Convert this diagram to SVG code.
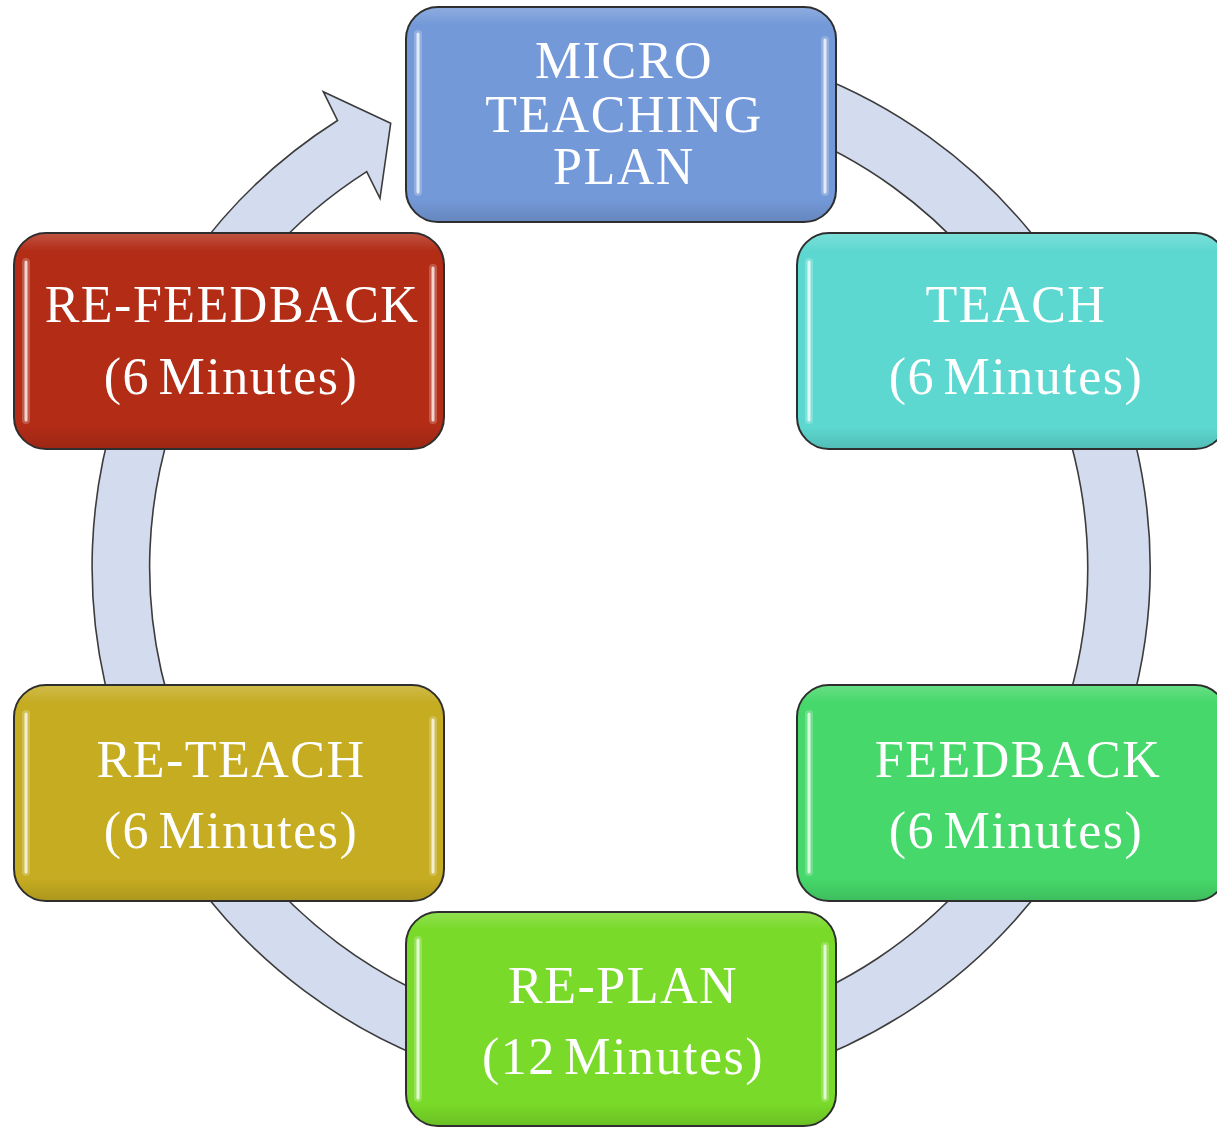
<svg xmlns="http://www.w3.org/2000/svg" width="1217" height="1127" viewBox="0 0 1217 1127">
  <defs>
    <linearGradient id="shade" x1="0" y1="0" x2="0" y2="1">
      <stop offset="0" stop-color="#ffffff" stop-opacity="0.18"/>
      <stop offset="0.08" stop-color="#ffffff" stop-opacity="0"/>
      <stop offset="0.9" stop-color="#000000" stop-opacity="0"/>
      <stop offset="1" stop-color="#000000" stop-opacity="0.12"/>
    </linearGradient>
    <style>
      .ring { fill: #D3DBEE; stroke: #3c3c3c; stroke-width: 1.6; stroke-linejoin: miter; }
      .box { stroke: #2e2e2e; stroke-width: 2; }
      .gloss { fill: url(#shade); stroke: none; }
      .hl { stroke: #ffffff; stroke-width: 3; stroke-linecap: round; opacity: 0.75; fill: none; }
      .hl2 { stroke: #ffffff; stroke-width: 8; stroke-linecap: round; opacity: 0.22; fill: none; }
      .lbl { font-family: "Liberation Serif", "Times New Roman", serif; font-size: 52px; letter-spacing: 1.5px; word-spacing: -6px; fill: #ffffff; text-anchor: middle; }
    </style>
  </defs>

  <g id="connectors">
    <path class="ring" d="M 575.9 40.0 A 529 529 0 1 1 337.5 120.5 L 323.3 91.7 L 390.7 123.3 L 380 198.3 L 366.7 171.7 A 469 469 0 1 0 581.1 99.8 Z"/>
  </g>

  <g id="node-plan">
    <rect class="box" x="406" y="7" width="430" height="215" rx="32" fill="#7499D8"/>
    <rect class="gloss" x="407" y="8" width="428" height="213" rx="31"/>
    <line class="hl2" x1="418" y1="34" x2="418" y2="192"/>
    <line class="hl" x1="418" y1="34" x2="418" y2="192"/>
    <line class="hl2" x1="825" y1="40" x2="825" y2="192"/>
    <line class="hl" x1="825" y1="40" x2="825" y2="192"/>
    <text class="lbl" x="624" y="78">MICRO</text>
    <text class="lbl" x="624" y="132">TEACHING</text>
    <text class="lbl" x="624" y="184">PLAN</text>
  </g>

  <g id="node-teach">
    <rect class="box" x="797" y="233" width="430" height="216" rx="32" fill="#5DD8D0"/>
    <rect class="gloss" x="798" y="234" width="428" height="214" rx="31"/>
    <line class="hl2" x1="809" y1="262" x2="809" y2="420"/>
    <line class="hl" x1="809" y1="262" x2="809" y2="420"/>
    <text class="lbl" x="1016" y="322">TEACH</text>
    <text class="lbl" x="1016" y="394">(6 Minutes)</text>
  </g>

  <g id="node-feedback">
    <rect class="box" x="797" y="685" width="430" height="216" rx="32" fill="#46D86A"/>
    <rect class="gloss" x="798" y="686" width="428" height="214" rx="31"/>
    <line class="hl2" x1="809" y1="714" x2="809" y2="872"/>
    <line class="hl" x1="809" y1="714" x2="809" y2="872"/>
    <text class="lbl" x="1018" y="777">FEEDBACK</text>
    <text class="lbl" x="1016" y="848">(6 Minutes)</text>
  </g>

  <g id="node-replan">
    <rect class="box" x="406" y="912" width="430" height="214" rx="32" fill="#79DA29"/>
    <rect class="gloss" x="407" y="913" width="428" height="212" rx="31"/>
    <line class="hl2" x1="418" y1="940" x2="418" y2="1098"/>
    <line class="hl" x1="418" y1="940" x2="418" y2="1098"/>
    <line class="hl2" x1="825" y1="946" x2="825" y2="1098"/>
    <line class="hl" x1="825" y1="946" x2="825" y2="1098"/>
    <text class="lbl" x="623" y="1003">RE-PLAN</text>
    <text class="lbl" x="623" y="1074">(12 Minutes)</text>
  </g>

  <g id="node-reteach">
    <rect class="box" x="14" y="685" width="430" height="216" rx="32" fill="#C5AC21"/>
    <rect class="gloss" x="15" y="686" width="428" height="214" rx="31"/>
    <line class="hl2" x1="26" y1="714" x2="26" y2="872"/>
    <line class="hl" x1="26" y1="714" x2="26" y2="872"/>
    <line class="hl2" x1="433" y1="720" x2="433" y2="872"/>
    <line class="hl" x1="433" y1="720" x2="433" y2="872"/>
    <text class="lbl" x="231" y="777">RE-TEACH</text>
    <text class="lbl" x="231" y="848">(6 Minutes)</text>
  </g>

  <g id="node-refeedback">
    <rect class="box" x="14" y="233" width="430" height="216" rx="32" fill="#B22C16"/>
    <rect class="gloss" x="15" y="234" width="428" height="214" rx="31"/>
    <line class="hl2" x1="26" y1="262" x2="26" y2="420"/>
    <line class="hl" x1="26" y1="262" x2="26" y2="420"/>
    <line class="hl2" x1="433" y1="268" x2="433" y2="420"/>
    <line class="hl" x1="433" y1="268" x2="433" y2="420"/>
    <text class="lbl" x="232" y="322">RE-FEEDBACK</text>
    <text class="lbl" x="231" y="394">(6 Minutes)</text>
  </g>
</svg>
